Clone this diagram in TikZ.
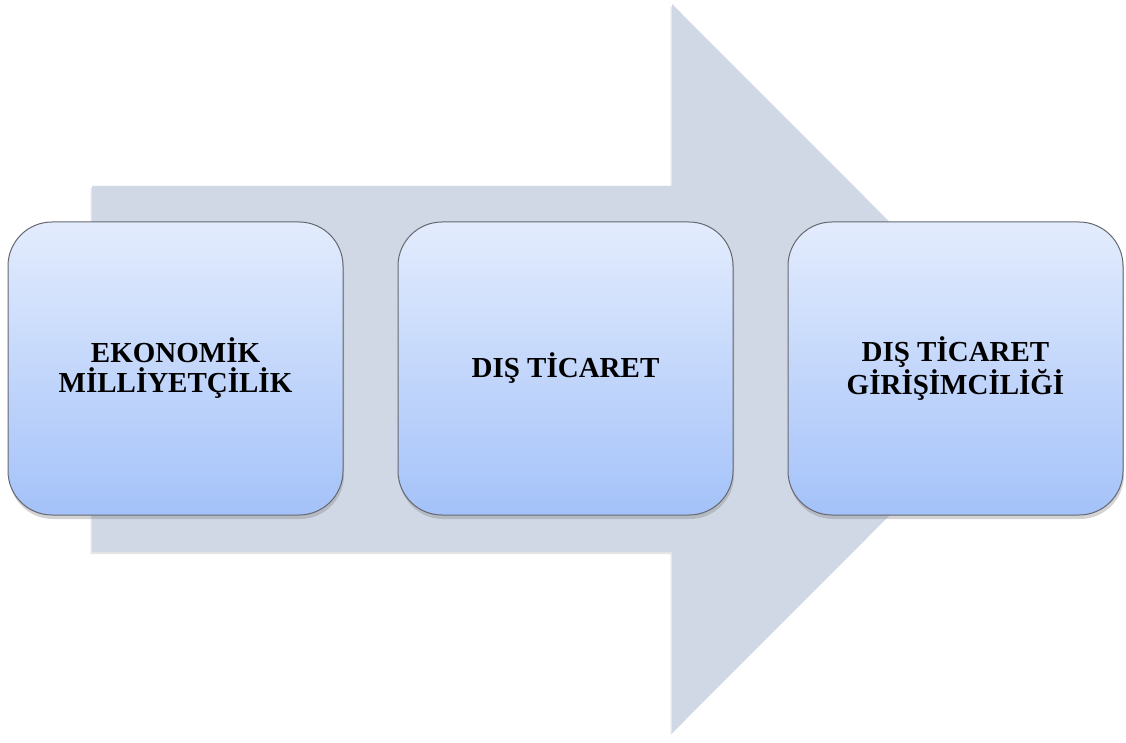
\documentclass[tikz,border=0pt]{standalone}
\usepackage{fontspec}
\setmainfont{Liberation Serif}
\usetikzlibrary{positioning,shadows}

\definecolor{arrowgray}{HTML}{D0D8E6}
\definecolor{boxtop}{HTML}{E3ECFD}
\definecolor{boxbottom}{HTML}{A4C2F9}
\definecolor{boxline}{HTML}{66686F}

\tikzset{
  stagebox/.style={rectangle, rounded corners=44pt, draw=boxline, line width=1pt,
    top color=boxtop, bottom color=boxbottom, minimum width=335pt, minimum height=293pt,
    outer sep=0pt, align=center, font=\fontsize{29}{30}\selectfont\bfseries,
    drop shadow={shadow xshift=1pt, shadow yshift=-4pt, opacity=0.35}},
  bigarrow/.style={fill=arrowgray, drop shadow={shadow xshift=-1.5pt, shadow yshift=-2pt, opacity=0.2}}
}

\begin{document}
\begin{tikzpicture}[x=1pt, y=-1pt]
	  \useasboundingbox (0,0) rectangle (1126,743);
	  \fill[bigarrow] (92,186) -- (672,186) -- (672,4) -- (1036,368.5) -- (672,733) -- (672,552) -- (92,552) -- cycle;
	  \node[stagebox] (milliyetcilik) at (175.5,368.5) {EKONOMİK\\MİLLİYETÇİLİK};
	  \node[stagebox, right=55pt of milliyetcilik] (ticaret) {DIŞ TİCARET};
	  \node[stagebox, right=55pt of ticaret] (girisim) {DIŞ TİCARET\\GİRİŞİMCİLİĞİ};
	\end{tikzpicture}
\end{document}
